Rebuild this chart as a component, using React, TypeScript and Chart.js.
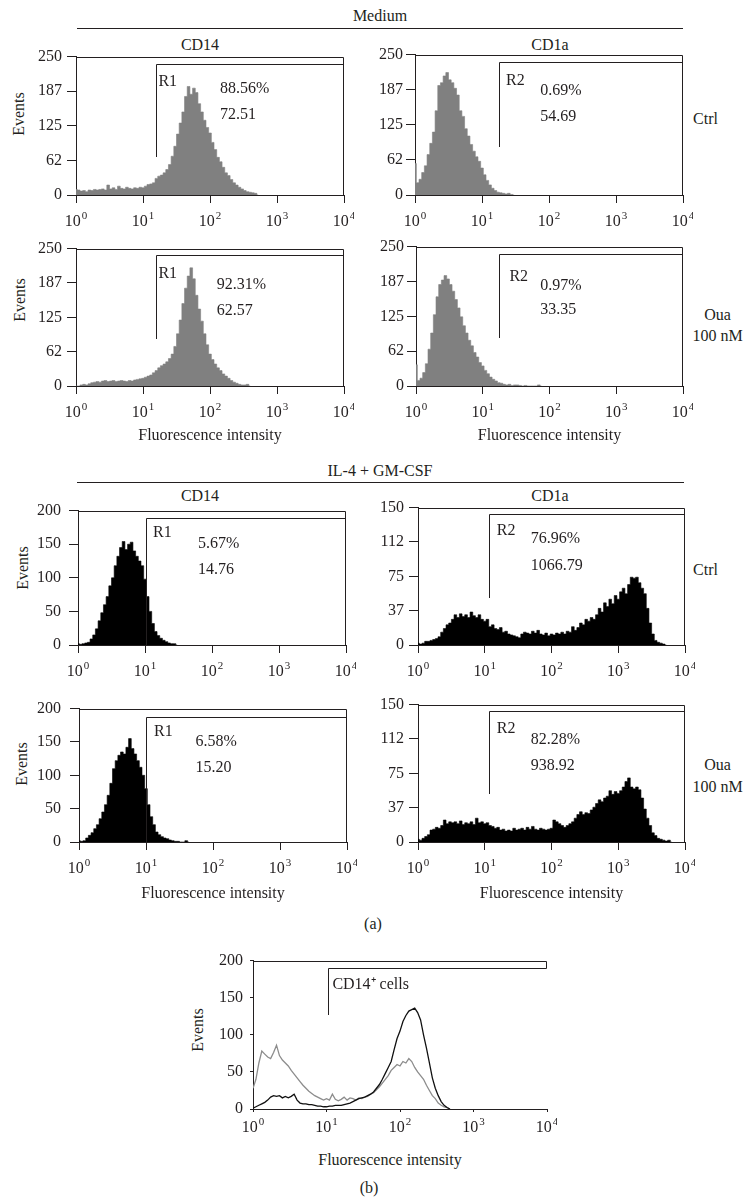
import React, { useEffect, useRef } from 'react';
import { Chart, registerables } from 'chart.js';

Chart.register(...registerables);

const FONT = '"Liberation Serif", "Times New Roman", serif';
const INK = '#231f20';
const GRAY = '#808080';
const BLACK = '#000000';
const BIN = 0.04; // width of one channel, in decades

const X_TICK_BASE = '10';
const X_TICK_EXP = ['0', '1', '2', '3', '4'];
const Y_LABELS_250 = ['0', '62', '125', '187', '250'];
const Y_LABELS_200 = ['0', '50', '100', '150', '200'];
const Y_LABELS_150 = ['0', '37', '75', '112', '150'];

// ---------- Medium ----------
const MED_CD14_CTRL = [10, 9, 7, 8, 6, 9, 8, 10, 9, 10, 11, 9, 18, 11, 13, 10, 16, 12, 11, 14, 12, 11, 13, 12, 14, 13, 16, 19, 20, 22, 30, 34, 36, 40, 46, 55, 70, 88, 110, 130, 150, 178, 196, 182, 193, 185, 165, 150, 135, 122, 112, 95, 82, 68, 60, 50, 40, 35, 28, 22, 18, 14, 11, 8, 6, 5, 4, 3, 0];
const MED_CD1A_CTRL = [56, 22, 28, 40, 52, 72, 92, 112, 150, 195, 200, 212, 218, 205, 200, 190, 178, 150, 140, 118, 105, 90, 78, 68, 60, 48, 36, 26, 18, 12, 8, 5, 4, 3, 2, 3, 1, 0];
const MED_CD14_OUA = [0, 0, 2, 3, 2, 4, 6, 7, 8, 7, 9, 10, 8, 9, 10, 8, 9, 10, 9, 8, 10, 9, 11, 12, 13, 14, 16, 18, 20, 24, 28, 33, 37, 40, 44, 50, 58, 72, 95, 120, 150, 178, 200, 215, 195, 165, 140, 118, 95, 75, 58, 48, 40, 33, 28, 22, 18, 14, 10, 7, 5, 3, 2, 2, 3, 0];
const MED_CD1A_OUA = [38, 10, 14, 24, 40, 66, 95, 128, 160, 182, 190, 198, 192, 182, 170, 155, 140, 124, 108, 95, 82, 72, 60, 52, 42, 36, 28, 22, 16, 12, 9, 6, 5, 3, 2, 3, 1, 2, 2, 1, 0, 1, 0, 0, 0, 0, 2, 0];

// ---------- IL-4 + GM-CSF ----------
const IL4_CD14_CTRL = [2, 1, 2, 3, 4, 9, 15, 24, 36, 48, 60, 72, 88, 100, 118, 132, 145, 154, 142, 150, 153, 140, 132, 125, 118, 98, 72, 50, 32, 20, 14, 10, 7, 5, 3, 2, 2, 0];
const IL4_CD1A_CTRL = [2, 1, 2, 4, 4, 5, 6, 7, 9, 14, 18, 22, 24, 28, 33, 30, 34, 31, 33, 30, 36, 32, 30, 33, 28, 26, 28, 20, 22, 18, 17, 19, 14, 15, 12, 11, 10, 9, 8, 12, 14, 13, 12, 15, 13, 16, 12, 11, 13, 10, 12, 11, 13, 12, 14, 12, 15, 14, 20, 16, 19, 24, 22, 28, 26, 30, 28, 33, 40, 36, 46, 42, 50, 45, 54, 50, 58, 62, 56, 66, 74, 73, 74, 68, 62, 56, 40, 24, 12, 5, 3, 2, 1, 0];
const IL4_CD14_OUA = [2, 1, 2, 6, 10, 14, 20, 26, 35, 45, 56, 70, 88, 110, 122, 130, 135, 132, 142, 155, 140, 132, 122, 112, 100, 80, 56, 38, 26, 15, 11, 8, 6, 5, 3, 2, 1, 1, 0, 0, 2, 0];
const IL4_CD1A_OUA = [3, 2, 4, 6, 8, 13, 14, 16, 15, 18, 24, 20, 22, 21, 22, 20, 23, 19, 21, 20, 22, 19, 26, 21, 22, 20, 21, 18, 17, 15, 16, 13, 14, 12, 13, 12, 15, 13, 14, 15, 13, 16, 14, 17, 14, 13, 15, 14, 13, 14, 15, 24, 22, 20, 18, 16, 18, 20, 22, 26, 30, 33, 30, 32, 31, 35, 38, 42, 46, 44, 48, 50, 56, 52, 55, 53, 56, 60, 66, 70, 60, 58, 60, 57, 48, 36, 26, 18, 10, 7, 4, 3, 2, 1, 2, 0];

// ---------- (b) CD14+ cells ----------
const B_BLACK = [1, 3, 5, 7, 9, 12, 16, 18, 17, 18, 15, 17, 15, 17, 20, 12, 8, 7, 7, 6, 6, 5, 4, 4, 3, 3, 4, 4, 5, 5, 5, 6, 7, 8, 10, 12, 14, 15, 16, 18, 20, 23, 28, 33, 40, 48, 56, 64, 80, 95, 105, 118, 126, 132, 134, 136, 130, 120, 100, 82, 62, 42, 28, 18, 10, 5, 2, 0];
const B_GRAY = [28, 40, 62, 78, 74, 70, 68, 76, 86, 72, 66, 62, 58, 52, 47, 42, 37, 32, 28, 24, 21, 18, 16, 14, 12, 14, 12, 20, 13, 11, 13, 16, 12, 15, 14, 12, 15, 14, 16, 17, 20, 22, 26, 30, 35, 40, 45, 52, 56, 60, 58, 64, 62, 68, 64, 56, 50, 45, 40, 32, 25, 18, 14, 8, 5, 3, 2, 0];

type Note = { text: string; x: number; y: number };
type Gate = { x: number; top: number; bottom: number };
type Series = { values: number[]; color: string; fill: boolean };
type PanelCfg = {
  key: string;
  l: number; t: number; r: number; b: number;
  yw: number; xh: number;
  yMax: number; yLabels: string[];
  series: Series[];
  gate: Gate;
  notes: Note[];
  xTitlePad?: number;
  fullRight: boolean;
  xLen: number; labelBase: number; yLen: number; yPad: number;
  tickFont: number; expFont: number; expRaise: number;
};

const panelA = (o: Partial<PanelCfg> & Pick<PanelCfg, 'key' | 'l' | 't' | 'r' | 'b' | 'yw' | 'xh' | 'yMax' | 'yLabels' | 'series' | 'gate' | 'notes'>): PanelCfg => ({
  fullRight: true, xLen: 8, labelBase: 31, yLen: 9, yPad: 5, tickFont: 16, expFont: 11, expRaise: 7, ...o,
});

const PANELS: PanelCfg[] = [
  panelA({
    key: 'p1', l: 76, t: 54, r: 344, b: 195, yw: 76, xh: 36, yMax: 250, yLabels: Y_LABELS_250,
    series: [{ values: MED_CD14_CTRL, color: GRAY, fill: true }],
    gate: { x: 1.19, top: 237.5, bottom: 69 },
    notes: [{ text: 'R1', x: 1.23, y: 204 }, { text: '88.56%', x: 2.15, y: 191 }, { text: '72.51', x: 2.15, y: 145 }],
  }),
  panelA({
    key: 'p2', l: 415, t: 54, r: 683, b: 195, yw: 45, xh: 36, yMax: 250, yLabels: Y_LABELS_250, yPad: 3,
    series: [{ values: MED_CD1A_CTRL, color: GRAY, fill: true }],
    gate: { x: 1.25, top: 237.5, bottom: 86 },
    notes: [{ text: 'R2', x: 1.36, y: 204 }, { text: '0.69%', x: 1.87, y: 186 }, { text: '54.69', x: 1.87, y: 139 }],
  }),
  panelA({
    key: 'p3', l: 76, t: 246, r: 344, b: 386, yw: 76, xh: 62, yMax: 250, yLabels: Y_LABELS_250, xTitlePad: 2.4,
    series: [{ values: MED_CD14_OUA, color: GRAY, fill: true }],
    gate: { x: 1.19, top: 237.5, bottom: 85 },
    notes: [{ text: 'R1', x: 1.23, y: 204 }, { text: '92.31%', x: 2.1, y: 184 }, { text: '62.57', x: 2.1, y: 136 }],
  }),
  panelA({
    key: 'p4', l: 416, t: 246, r: 683, b: 386, yw: 45, xh: 62, yMax: 250, yLabels: Y_LABELS_250, xTitlePad: 2.4, yPad: 3,
    series: [{ values: MED_CD1A_OUA, color: GRAY, fill: true }],
    gate: { x: 1.25, top: 237.5, bottom: 86 },
    notes: [{ text: 'R2', x: 1.4, y: 196 }, { text: '0.97%', x: 1.86, y: 180 }, { text: '33.35', x: 1.86, y: 136 }],
  }),
  panelA({
    key: 'p5', l: 78, t: 505, r: 346, b: 645, yw: 78, xh: 36, yMax: 200, yLabels: Y_LABELS_200, yPad: 8,
    series: [{ values: IL4_CD14_CTRL, color: BLACK, fill: true }],
    gate: { x: 1.01, top: 189, bottom: 0 },
    notes: [{ text: 'R1', x: 1.12, y: 167 }, { text: '5.67%', x: 1.79, y: 151 }, { text: '14.76', x: 1.79, y: 112 }],
  }),
  panelA({
    key: 'p6', l: 418, t: 505, r: 685, b: 645, yw: 45, xh: 36, yMax: 150, yLabels: Y_LABELS_150, yPad: 5,
    series: [{ values: IL4_CD1A_CTRL, color: BLACK, fill: true }],
    gate: { x: 1.06, top: 142.8, bottom: 51.4 },
    notes: [{ text: 'R2', x: 1.18, y: 125 }, { text: '76.96%', x: 1.69, y: 115.7 }, { text: '1066.79', x: 1.69, y: 86.8 }],
  }),
  panelA({
    key: 'p7', l: 79, t: 702, r: 347, b: 842, yw: 79, xh: 64, yMax: 200, yLabels: Y_LABELS_200, xTitlePad: 2.4, yPad: 9,
    series: [{ values: IL4_CD14_OUA, color: BLACK, fill: true }],
    gate: { x: 1.0, top: 187, bottom: 0 },
    notes: [{ text: 'R1', x: 1.12, y: 165 }, { text: '6.58%', x: 1.74, y: 150 }, { text: '15.20', x: 1.74, y: 111 }],
  }),
  panelA({
    key: 'p8', l: 418, t: 702, r: 685, b: 842, yw: 45, xh: 64, yMax: 150, yLabels: Y_LABELS_150, xTitlePad: 2.4, yPad: 5,
    series: [{ values: IL4_CD1A_OUA, color: BLACK, fill: true }],
    gate: { x: 1.06, top: 142.9, bottom: 51.9 },
    notes: [{ text: 'R2', x: 1.18, y: 123.5 }, { text: '82.28%', x: 1.69, y: 112 }, { text: '938.92', x: 1.69, y: 83.6 }],
  }),
  {
    key: 'pb', l: 253, t: 956, r: 547, b: 1109, yw: 45, xh: 30, yMax: 200, yLabels: Y_LABELS_200,
    series: [{ values: B_BLACK, color: '#111111', fill: false }, { values: B_GRAY, color: '#8c8c8c', fill: false }],
    gate: { x: 1.02, top: 190, bottom: 126.4 },
    notes: [{ text: 'CD14⁺ cells', x: 1.08, y: 168 }],
    fullRight: false, xLen: 3, labelBase: 23, yLen: 3, yPad: 7, tickFont: 16, expFont: 11, expRaise: 7,
  },
];

function Panel({ cfg }: { cfg: PanelCfg }) {
  const ref = useRef<HTMLCanvasElement | null>(null);
  const left = cfg.l - cfg.yw;
  const top = cfg.t - 12;
  const width = cfg.r - left + 10;
  const height = cfg.b - top + cfg.xh;

  useEffect(() => {
    const canvas = ref.current;
    if (!canvas) return;
    const deco = {
      id: 'deco',
      afterDatasetsDraw(chart: any) {
        const ctx = chart.ctx as CanvasRenderingContext2D;
        const xs = chart.scales.x;
        const ys = chart.scales.y;
        const ca = chart.chartArea;
        ctx.save();
        ctx.strokeStyle = INK;
        ctx.lineWidth = 1;
        const topY = Math.round(ca.top) + 0.5;
        const rightX = Math.round(ca.right) - 0.5;
        const gx = Math.round(xs.getPixelForValue(cfg.gate.x)) + 0.5;
        const gTop = Math.round(ys.getPixelForValue(cfg.gate.top)) + 0.5;
        const gBot = Math.round(ys.getPixelForValue(cfg.gate.bottom));
        ctx.beginPath();
        // frame: top edge and right edge
        ctx.moveTo(ca.left, topY);
        ctx.lineTo(rightX, topY);
        ctx.lineTo(rightX, cfg.fullRight ? ca.bottom : gTop);
        // gate bracket
        ctx.moveTo(gx, gBot);
        ctx.lineTo(gx, gTop);
        ctx.lineTo(rightX, gTop);
        ctx.stroke();
        ctx.fillStyle = INK;
        ctx.font = `16px ${FONT}`;
        ctx.textAlign = 'left';
        ctx.textBaseline = 'middle';
        for (const n of cfg.notes) {
          ctx.fillText(n.text, xs.getPixelForValue(n.x), ys.getPixelForValue(n.y));
        }
        // decade tick labels: 10 with a raised exponent
        ctx.textBaseline = 'alphabetic';
        const baseY = ca.bottom + cfg.labelBase;
        for (const tk of xs.ticks) {
          const k = Math.round(tk.value);
          const exp = X_TICK_EXP[k];
          if (exp === undefined) continue;
          ctx.font = `${cfg.tickFont}px ${FONT}`;
          const w1 = ctx.measureText(X_TICK_BASE).width;
          ctx.font = `${cfg.expFont}px ${FONT}`;
          const w2 = ctx.measureText(exp).width;
          const x0 = xs.getPixelForValue(tk.value) - (w1 + w2 + 1) / 2;
          ctx.font = `${cfg.tickFont}px ${FONT}`;
          ctx.fillText(X_TICK_BASE, x0, baseY);
          ctx.font = `${cfg.expFont}px ${FONT}`;
          ctx.fillText(exp, x0 + w1 + 1, baseY - cfg.expRaise);
        }
        ctx.restore();
      },
    };
    const chart = new Chart(canvas, {
      type: 'line',
      data: {
        datasets: cfg.series.map((s) => ({
          data: s.values.map((v, i) => ({ x: i * BIN, y: v })),
          borderColor: s.color,
          backgroundColor: s.color,
          borderWidth: s.fill ? 0.6 : 1.3,
          fill: s.fill ? 'origin' : false,
          stepped: s.fill ? 'middle' : false,
          pointRadius: 0,
          tension: 0,
        })),
      },
      options: {
        animation: false,
        responsive: false,
        devicePixelRatio: 1,
        events: [],
        layout: { padding: { left: 0, top: 12, right: 10, bottom: 0 }, autoPadding: false },
        plugins: { legend: { display: false }, tooltip: { enabled: false }, title: { display: false } },
        scales: {
          x: {
            type: 'linear',
            min: 0,
            max: 4,
            ticks: { stepSize: 1, autoSkip: false, maxRotation: 0, display: false },
            grid: { display: true, drawOnChartArea: false, drawTicks: true, tickLength: cfg.xLen, color: INK, lineWidth: 1 },
            border: { display: true, color: INK, width: 1 },
            title: cfg.xTitlePad != null
              ? { display: true, text: 'Fluorescence intensity', color: INK, font: { family: FONT, size: 16 }, padding: { top: 0, bottom: cfg.xTitlePad } }
              : { display: false },
            afterFit: (s: any) => { s.height = cfg.xh; },
          },
          y: {
            type: 'linear',
            min: 0,
            max: cfg.yMax,
            ticks: {
              stepSize: cfg.yMax / 4,
              padding: cfg.yPad,
              color: INK,
              font: { family: FONT, size: cfg.tickFont },
              callback: (_v: any, i: number) => cfg.yLabels[i] ?? '',
            },
            grid: { display: true, drawOnChartArea: false, drawTicks: true, tickLength: cfg.yLen, color: INK, lineWidth: 1 },
            border: { display: true, color: INK, width: 1 },
            afterFit: (s: any) => { s.width = cfg.yw; },
          },
        },
      } as any,
      plugins: [deco],
    });
    return () => chart.destroy();
  }, [cfg]);

  return (
    <canvas
      ref={ref}
      width={width}
      height={height}
      style={{ position: 'absolute', left, top, width, height }}
    />
  );
}

type Txt = { text: string; x: number; y: number; size?: number; rotate?: boolean };

const TEXTS: Txt[] = [
  { text: 'Medium', x: 380, y: 16 },
  { text: 'CD14', x: 200, y: 45 },
  { text: 'CD1a', x: 550, y: 45 },
  { text: 'Ctrl', x: 705.5, y: 119 },
  { text: 'Oua', x: 717.5, y: 315 },
  { text: '100 nM', x: 717.5, y: 336 },
  { text: 'IL-4 + GM-CSF', x: 380, y: 471 },
  { text: 'CD14', x: 200, y: 496 },
  { text: 'CD1a', x: 550, y: 496 },
  { text: 'Ctrl', x: 705.5, y: 570 },
  { text: 'Oua', x: 717.5, y: 765 },
  { text: '100 nM', x: 717.5, y: 787 },
  { text: '(a)', x: 373, y: 924 },
  { text: 'Fluorescence intensity', x: 390, y: 1160 },
  { text: '(b)', x: 369, y: 1188 },
  { text: 'Events', x: 19, y: 114, rotate: true },
  { text: 'Events', x: 19.5, y: 300, rotate: true },
  { text: 'Events', x: 22.5, y: 568, rotate: true },
  { text: 'Events', x: 22, y: 764, rotate: true },
  { text: 'Events', x: 198, y: 1030, rotate: true },
];

const RULES = [
  { x1: 77, x2: 683, y: 28 },
  { x1: 77, x2: 684, y: 482 },
];

export default function App() {
  useEffect(() => {
    document.body.style.margin = '0';
  }, []);
  return (
    <div style={{ position: 'absolute', left: 0, top: 0, width: 753, height: 1202, background: '#ffffff', overflow: 'hidden', fontFamily: FONT, color: INK }}>
      {RULES.map((r, i) => (
        <div key={'r' + i} style={{ position: 'absolute', left: r.x1, top: r.y, width: r.x2 - r.x1, height: 1, background: INK }} />
      ))}
      {TEXTS.map((t, i) => (
        <div
          key={'t' + i}
          style={{
            position: 'absolute',
            left: t.x,
            top: t.y,
            fontSize: t.size ?? 16,
            lineHeight: '18px',
            whiteSpace: 'nowrap',
            transform: t.rotate ? 'translate(-50%, -50%) rotate(-90deg)' : 'translate(-50%, -50%)',
          }}
        >
          {t.text}
        </div>
      ))}
      {PANELS.map((p) => (
        <Panel key={p.key} cfg={p} />
      ))}
    </div>
  );
}
